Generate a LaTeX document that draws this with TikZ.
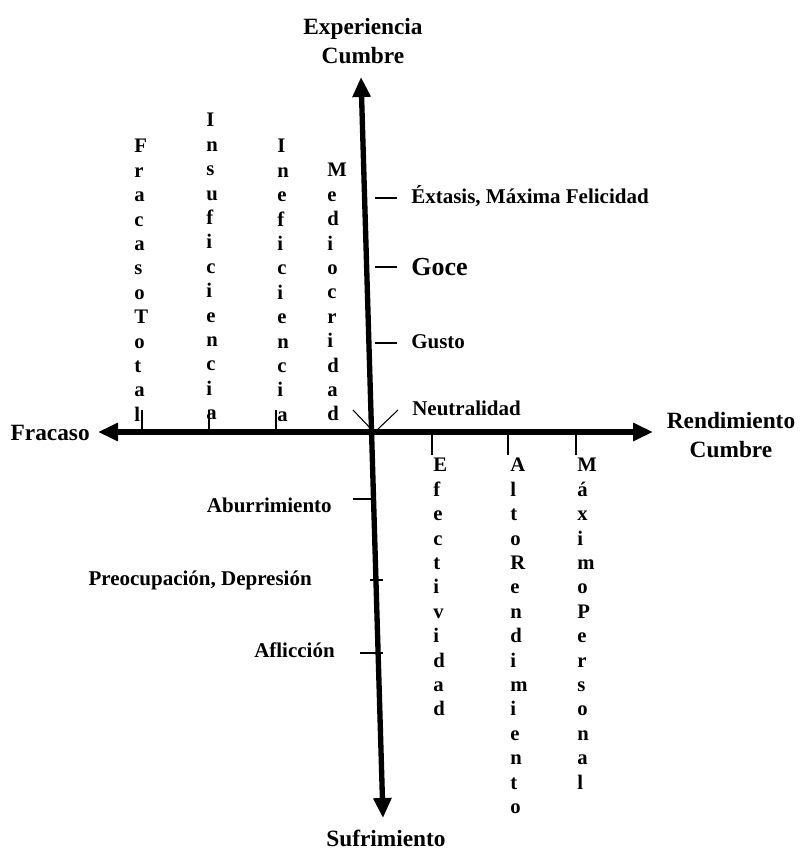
\documentclass[tikz,border=0pt]{standalone}
\usepackage{fontspec}
\setmainfont{Liberation Serif}
\usetikzlibrary{arrows.meta}
\begin{document}
\begin{tikzpicture}[x=0.75pt,y=-0.75pt,
  axis/.style={line width=4pt,
    {Triangle[length=15pt,width=13pt]}-{Triangle[length=15pt,width=13pt]}},
  tick/.style={line width=1.1pt},
  thin/.style={line width=0.8pt},
  lbl/.style={font=\bfseries\fontsize{15.75}{18}\selectfont, inner sep=0pt},
  biglbl/.style={font=\bfseries\fontsize{19.5}{22}\selectfont, inner sep=0pt},
  axislbl/.style={font=\bfseries\fontsize{17.5}{21.75}\selectfont, inner sep=0pt, align=center},
  col/.style={font=\bfseries\fontsize{15.5}{18.3}\selectfont, inner sep=0pt,
    align=left, anchor=north west},
]
\useasboundingbox (0,0) rectangle (801,852);

% axis end points
\coordinate (up)    at (361,77);
\coordinate (down)  at (383,818);
\coordinate (left)  at (98,432);
\coordinate (right) at (653,432);
\coordinate (o)     at (374,432);

% the two axes
\draw[axis] (down) -- (up);
\draw[axis] (left) -- (right);

% small V at the origin
\coordinate (vl) at (353,410);
\coordinate (vr) at (398,410);
\draw[thin] (vl) -- (372,430);
\draw[thin] (vr) -- (377,430);

% axis titles
\node[axislbl, anchor=north] (exp) at (363,18) {Experiencia\\Cumbre};
\node[axislbl, anchor=base] (suf) at (386,846) {Sufrimiento};
\node[axislbl, anchor=base east] (fra) at (90,440) {Fracaso};
\node[axislbl, anchor=north] (ren) at (731,412) {Rendimiento\\Cumbre};

% marks along the vertical axis
\draw[tick] (375,198) -- (397,198);
\draw[tick] (375,267) -- (397,267);
\draw[tick] (375,343) -- (397,343);
\node[lbl, anchor=base west] (ext) at (411,204) {Éxtasis, Máxima Felicidad};
\node[biglbl, anchor=base west] (goc) at (411,275) {Goce};
\node[lbl, anchor=base west] (gus) at (411,348) {Gusto};
\node[lbl, anchor=base west] (neu) at (412,415) {Neutralidad};

\draw[tick] (353,499) -- (374,499);
\draw[tick] (370,580) -- (383,580);
\draw[tick] (360,653) -- (383,653);
\node[lbl, anchor=base east] (abu) at (332,512) {Aburrimiento};
\node[lbl, anchor=base east] (pre) at (312,585) {Preocupación, Depresión};
\node[lbl, anchor=base east] (afl) at (335,657) {Aflicción};

% marks along the horizontal axis
\draw[tick] (142,410) -- (142,432);
\draw[tick] (209,410) -- (209,432);
\draw[tick] (276,410) -- (276,432);
\draw[tick] (432,432) -- (432,455);
\draw[tick] (508,432) -- (508,455);
\draw[tick] (576,432) -- (576,455);

% vertical word columns
\node[col] (c1) at (134,139) {F\\r\\a\\c\\a\\s\\o\\T\\o\\t\\a\\l};
\node[col] (c2) at (206,113) {I\\n\\s\\u\\f\\i\\c\\i\\e\\n\\c\\i\\a};
\node[col] (c3) at (277,139) {I\\n\\e\\f\\i\\c\\i\\e\\n\\c\\i\\a};
\node[col] (c4) at (327,163) {M\\e\\d\\i\\o\\c\\r\\i\\d\\a\\d};
\node[col] (c5) at (433,458) {E\\f\\e\\c\\t\\i\\v\\i\\d\\a\\d};
\node[col] (c6) at (510,458) {A\\l\\t\\o\\R\\e\\n\\d\\i\\m\\i\\e\\n\\t\\o};
\node[col] (c7) at (577,458) {M\\á\\x\\i\\m\\o\\P\\e\\r\\s\\o\\n\\a\\l};
\end{tikzpicture}
\end{document}
